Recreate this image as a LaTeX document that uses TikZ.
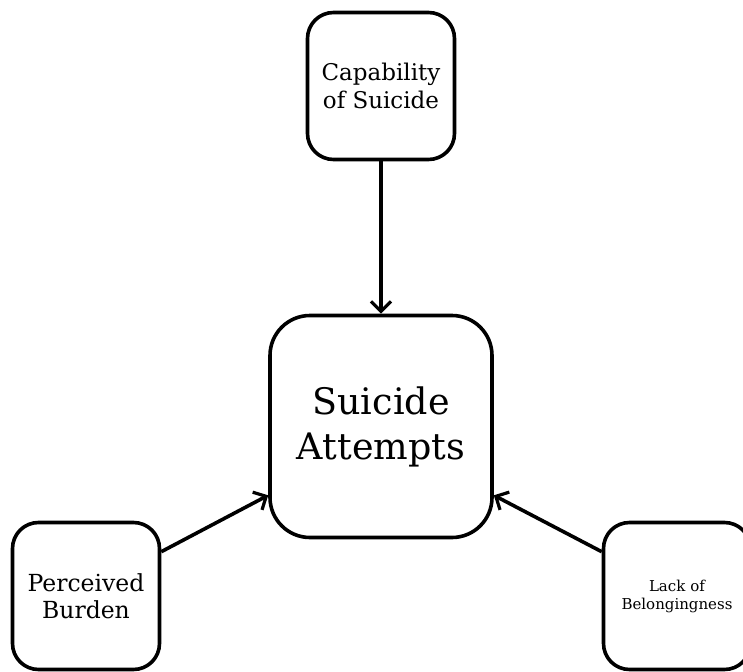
\documentclass[tikz,border=0pt]{standalone}
\usepackage{fontspec}
\setmainfont{DejaVu Serif}
\usetikzlibrary{arrows.meta}
\begin{document}
\begin{tikzpicture}[x=1pt,y=-1pt,
  box/.style={draw=black, line width=3.6pt, fill=white, inner sep=0pt, align=center,
              minimum width=#1, minimum height=#1},
  link/.style={line width=3.6pt, -{Straight Barb[length=10pt,width=20pt,line width=3.2pt]}}]
  \clip (0,0) rectangle (743,671);
  \fill[white] (0,0) rectangle (743,671);
  % factors and outcome
  \node[box=147pt, rounded corners=26pt, font=\fontsize{23}{28}\selectfont]
    (cap) at (381,86) {Capability\\of Suicide};
  \node[box=222pt, rounded corners=40pt, font=\fontsize{36.5}{45}\selectfont]
    (att) at (381,426.5) {Suicide\\Attempts};
  \node[box=147pt, rounded corners=26pt, font=\fontsize{23.5}{27}\selectfont]
    (bur) at (86,596) {Perceived\\Burden};
  \node[box=147pt, rounded corners=26pt, font=\fontsize{15}{18}\selectfont,
        text width=147pt]
    (bel) at (677,596) {Lack of\\Belongingness};
  % influences
  \draw[link] (cap.south) -- (att.north);
  \draw[link] ([yshift=-31pt]bur.north east) -- ([yshift=44pt]att.south west);
  \draw[link] ([yshift=-31pt]bel.north west) -- ([yshift=44pt]att.south east);
\end{tikzpicture}
\end{document}
